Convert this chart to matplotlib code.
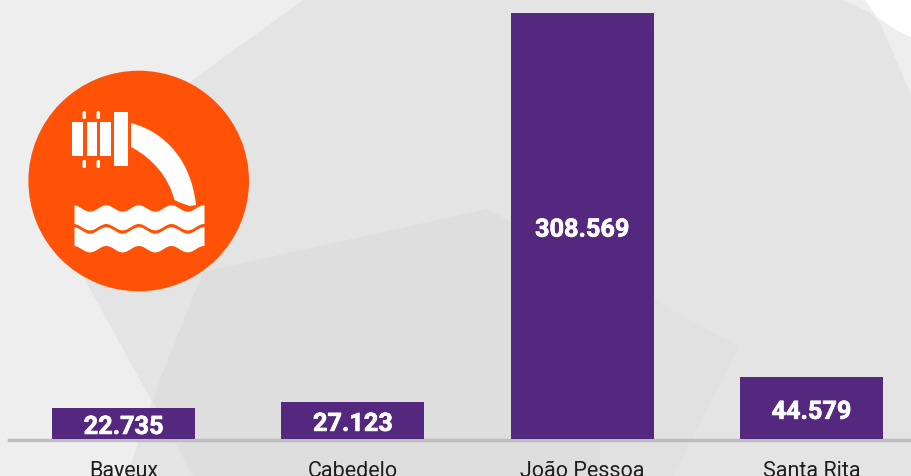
import numpy as np
import matplotlib
matplotlib.use("Agg")
import matplotlib.pyplot as plt
import matplotlib.patheffects as pe
from matplotlib.patches import Polygon, Circle, Rectangle, FancyBboxPatch, PathPatch
from matplotlib.path import Path

categories = ["Bayeux", "Cabedelo", "João Pessoa", "Santa Rita"]
values = [22735, 27123, 308569, 44579]
value_labels = ["22.735", "27.123", "308.569", "44.579"]

W, H = 912, 476
fig = plt.figure(figsize=(W / 100, H / 100), dpi=100, facecolor="#eeeeee")

# background shapes, pixel coordinates
bg = fig.add_axes([0, 0, 1, 1], zorder=0)
bg.set_xlim(0, W); bg.set_ylim(H, 0); bg.axis("off")
bg.add_patch(Polygon([(865, 0), (877, 17), (893, 28), (912, 38), (912, 0)], fc="white", ec="none"))
bg.add_patch(Polygon([(303, 0), (843, 0), (870, 13), (880, 23), (912, 97), (912, 476),
                      (193, 476), (100, 307), (85, 280), (85, 200), (190, 82)], fc="#e4e4e4", ec="none"))
# second sheet: only its overlap with the first one reads darker
bg.add_patch(Polygon([(157, 387), (127, 476), (193, 476), (153, 402)], fc="#e4e4e4", ec="none"))
bg.add_patch(Polygon([(487, 209), (600, 270), (600, 476), (193, 476), (153, 402), (157, 387), (203, 272)],
                     fc="#dedede", ec="none"))
bg.add_patch(Polygon([(600, 270), (739, 347), (673, 476), (600, 476)], fc="#e1e1e1", ec="none"))

# chart
x_left, x_right = 9, 912
c0, step = 123.5, 229.3
ax = fig.add_axes([x_left / W, (H - 439) / H, (x_right - x_left) / W, (439 - 13) / H], zorder=1)
ax.patch.set_visible(False)
x = np.arange(len(categories))
bars = ax.bar(x, values, width=0.624, color="#55287f", zorder=3)
ax.set_xlim((x_left - c0) / step, (x_right - c0) / step)
ax.set_ylim(0, max(values))
for s in ["top", "left", "right"]:
    ax.spines[s].set_visible(False)
ax.spines["bottom"].set_color("#bdbdbd")
ax.spines["bottom"].set_linewidth(2.5)
ax.spines["bottom"].set_position(("outward", 0.9))
ax.set_yticks([])
ax.set_xticks(x, categories, family="Roboto", fontsize=15.5, color="#1e1e1e", fontweight="normal")
ax.tick_params(axis="x", length=0, pad=14.8)
for xi, v, lab in zip(x, values, value_labels):
    ax.annotate(lab, (xi, v / 2), xytext=(0, -0.8), textcoords="offset points", ha="center",
                va="center_baseline", color="white", family="Roboto", fontweight="bold", fontsize=18.2,
                zorder=4, path_effects=[pe.withStroke(linewidth=0.5, foreground="white")])

# icon
ic = fig.add_axes([0, 0, 1, 1], zorder=2)
ic.set_xlim(0, W); ic.set_ylim(H, 0); ic.axis("off")
ic.add_patch(Circle((138.7, 181), 110.3, fc="#ff5206", ec="none"))
for x0, x1, y0, y1 in [(72, 83, 122, 156), (87, 97, 122, 156), (100, 111, 122, 156), (114, 128, 112, 166)]:
    ic.add_patch(Rectangle((x0, y0), x1 - x0, y1 - y0, fc="white", ec="none"))
for x0 in (82.5, 96.5):
    for y0 in (111, 160):
        ic.add_patch(FancyBboxPatch((x0 + 1.5, y0 + 1.5), 0.5, 5, boxstyle="round,pad=1.5", fc="white", ec="none"))
pipe = Path([(131, 123), (165, 132), (191, 160), (196, 205), (190, 206), (181, 203), (174.5, 200),
             (168, 176), (152, 158), (131, 147), (131, 123)],
            [Path.MOVETO, Path.CURVE4, Path.CURVE4, Path.CURVE4, Path.LINETO, Path.LINETO, Path.LINETO,
             Path.CURVE4, Path.CURVE4, Path.CURVE4, Path.CLOSEPOLY])
ic.add_patch(PathPatch(pipe, fc="white", ec="none"))
wx = np.linspace(74, 204, 200)
wave = -3.2 * np.cos(2 * np.pi * (wx - 105.8) / 32.6)
for top, bottom in [(208, 226.7), (230, 248.7)]:
    ic.fill_between(wx, top + wave, bottom + wave, color="white", lw=0)

fig.savefig("out.png", dpi=100, facecolor=fig.get_facecolor())
